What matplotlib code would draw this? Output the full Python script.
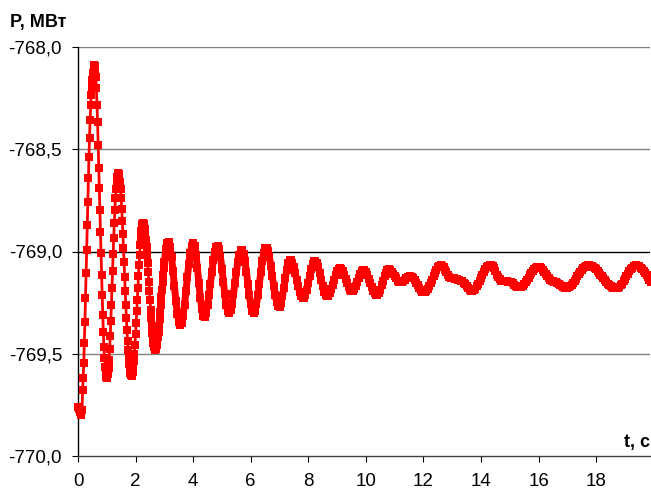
import numpy as np
import matplotlib
matplotlib.use('Agg')
import matplotlib.pyplot as plt
from matplotlib.ticker import FuncFormatter

plt.rcParams['font.family'] = ['Liberation Sans', 'DejaVu Sans']

# Начальный участок переходного процесса, шаг 0,02 с (с 0 до 2,98 с)
dt_a = 0.02
p_a = [
    -769.760, -769.762, -769.768, -769.776, -769.785, -769.795, -769.800, -769.775, -769.677, -769.619,
    -769.545, -769.447, -769.345, -769.227, -769.105, -768.993, -768.870, -768.758, -768.641, -768.538,
    -768.445, -768.357, -768.284, -768.235, -768.196, -768.161, -768.127, -768.103, -768.088, -768.093,
    -768.112, -768.147, -768.200, -768.284, -768.367, -768.479, -768.592, -768.689, -768.797, -768.905,
    -769.007, -769.115, -769.213, -769.311, -769.394, -769.467, -769.521, -769.565, -769.594, -769.614,
    -769.619, -769.614, -769.599, -769.570, -769.531, -769.477, -769.413, -769.340, -769.262, -769.178,
    -769.095, -769.012, -768.934, -768.861, -768.797, -768.738, -768.694, -768.660, -768.636, -768.621,
    -768.616, -768.621, -768.636, -768.660, -768.694, -768.738, -768.792, -768.851, -768.914, -768.983,
    -769.051, -769.125, -769.193, -769.262, -769.325, -769.384, -769.438, -769.482, -769.521, -769.550,
    -769.575, -769.594, -769.604, -769.609, -769.604, -769.591, -769.568, -769.537, -769.499, -769.455,
    -769.404, -769.350, -769.293, -769.235, -769.177, -769.119, -769.065, -769.015, -768.970, -768.932,
    -768.901, -768.879, -768.865, -768.861, -768.864, -768.875, -768.892, -768.915, -768.944, -768.978,
    -769.016, -769.057, -769.102, -769.147, -769.194, -769.239, -769.284, -769.325, -769.364, -769.397,
    -769.426, -769.449, -769.466, -769.477, -769.480, -769.477, -769.470, -769.457, -769.440, -769.418,
    -769.392, -769.363, -769.331, -769.297, -769.261, -769.224, -769.187, -769.151, -769.116, -769.083,
]

# Дальше, с 3,00 с, шаг 0,05 с (точки сливаются в полосу)
t0_b = 3.0
dt_b = 0.05
p_b = [
    -769.052, -768.990, -768.956, -768.952, -768.977, -769.027, -769.095, -769.170, -769.244, -769.305,
    -769.346, -769.360, -769.348, -769.313, -769.260, -769.195, -769.125, -769.060, -769.007, -768.972,
    -768.960, -768.975, -769.018, -769.082, -769.155, -769.226, -769.282, -769.315, -769.318, -769.300,
    -769.264, -769.215, -769.157, -769.098, -769.044, -769.002, -768.977, -768.971, -768.988, -769.028,
    -769.084, -769.148, -769.210, -769.261, -769.292, -769.300, -769.286, -769.255, -769.209, -769.156,
    -769.101, -769.052, -769.015, -768.994, -768.992, -769.011, -769.048, -769.099, -769.157, -769.212,
    -769.259, -769.289, -769.300, -769.289, -769.259, -769.213, -769.158, -769.099, -769.047, -769.007,
    -768.984, -768.981, -768.997, -769.028, -769.071, -769.120, -769.170, -769.214, -769.248, -769.267,
    -769.269, -769.252, -769.220, -769.178, -769.132, -769.090, -769.058, -769.042, -769.042, -769.054,
    -769.077, -769.106, -769.138, -769.171, -769.199, -769.219, -769.229, -769.228, -769.213, -769.188,
    -769.155, -769.120, -769.087, -769.062, -769.047, -769.046, -769.057, -769.078, -769.107, -769.139,
    -769.170, -769.197, -769.214, -769.220, -769.216, -769.204, -769.185, -769.162, -769.138, -769.115,
    -769.096, -769.084, -769.080, -769.084, -769.095, -769.113, -769.133, -769.154, -769.173, -769.187,
    -769.194, -769.193, -769.184, -769.169, -769.149, -769.128, -769.109, -769.096, -769.090, -769.092,
    -769.101, -769.116, -769.134, -769.155, -769.175, -769.193, -769.205, -769.211, -769.211, -769.202,
    -769.186, -769.166, -769.143, -769.122, -769.104, -769.092, -769.088, -769.091, -769.098, -769.108,
    -769.120, -769.132, -769.142, -769.148, -769.150, -769.148, -769.144, -769.138, -769.132, -769.127,
    -769.123, -769.122, -769.124, -769.130, -769.140, -769.152, -769.165, -769.177, -769.188, -769.196,
    -769.200, -769.199, -769.194, -769.184, -769.171, -769.155, -769.138, -769.120, -769.103, -769.089,
    -769.077, -769.070, -769.068, -769.071, -769.078, -769.089, -769.102, -769.114, -769.123, -769.129,
    -769.131, -769.132, -769.134, -769.136, -769.138, -769.140, -769.142, -769.145, -769.152, -769.161,
    -769.171, -769.180, -769.187, -769.191, -769.192, -769.188, -769.181, -769.171, -769.158, -769.144,
    -769.129, -769.113, -769.099, -769.086, -769.076, -769.069, -769.065, -769.066, -769.072, -769.083,
    -769.097, -769.113, -769.126, -769.136, -769.142, -769.143, -769.144, -769.145, -769.146, -769.147,
    -769.149, -769.151, -769.156, -769.162, -769.168, -769.172, -769.175, -769.175, -769.172, -769.167,
    -769.160, -769.151, -769.140, -769.129, -769.117, -769.106, -769.095, -769.087, -769.080, -769.076,
    -769.075, -769.077, -769.082, -769.089, -769.099, -769.110, -769.121, -769.131, -769.138, -769.143,
    -769.145, -769.147, -769.149, -769.152, -769.157, -769.163, -769.169, -769.175, -769.178, -769.180,
    -769.179, -769.176, -769.170, -769.163, -769.154, -769.144, -769.133, -769.122, -769.111, -769.100,
    -769.090, -769.082, -769.076, -769.071, -769.068, -769.068, -769.069, -769.072, -769.076, -769.082,
    -769.088, -769.096, -769.104, -769.113, -769.122, -769.131, -769.140, -769.149, -769.157, -769.164,
    -769.169, -769.174, -769.178, -769.180, -769.180, -769.178, -769.173, -769.166, -769.157, -769.146,
    -769.134, -769.121, -769.109, -769.097, -769.087, -769.079, -769.072, -769.069, -769.068, -769.070,
    -769.073, -769.079, -769.086, -769.095, -769.105, -769.115, -769.126, -769.137, -769.147,
]

y_ticks = [-770.0, -769.5, -769.0, -768.5, -768.0]
x_ticks = [0, 2, 4, 6, 8, 10, 12, 14, 16, 18]

t_a = dt_a * np.arange(len(p_a))
t_b = t0_b + dt_b * np.arange(len(p_b))

red = '#ff0000'
fig = plt.figure(figsize=(6.51, 4.91), dpi=100)
ax = fig.add_axes([78 / 651, 35 / 491, 572 / 651, 409 / 491])

# сетка
for v in y_ticks[1:]:
    ax.axhline(v, color='black' if v == -769.0 else '#808080', lw=1.0, zorder=1)

ax.plot(t_a, p_a, color=red, lw=2.0, marker='s', ms=5.4, mfc=red, mec=red,
        mew=0, zorder=3, clip_on=False)
ax.plot(np.r_[t_a[-1], t_b], np.r_[p_a[-1], p_b], color=red, lw=5.0,
        solid_joinstyle='round', marker='s', ms=5.4, mfc=red, mec=red,
        mew=0, zorder=3)

ax.set_xlim(0, 19.87)
ax.set_ylim(-770, -768)
ax.set_xticks(x_ticks)
ax.set_yticks(y_ticks)
ax.yaxis.set_major_formatter(FuncFormatter(lambda v, _: f'{v:.1f}'.replace('.', ',')))
ax.tick_params(axis='y', direction='out', length=4.5, width=0.8, pad=7, labelsize=13.5)
ax.tick_params(axis='x', direction='out', length=4, width=0.8, pad=8, labelsize=13.5)

for s in ['top', 'right']:
    ax.spines[s].set_visible(False)
ax.spines['left'].set_linewidth(1.0)
ax.spines['bottom'].set_linewidth(1.0)
ax.spines['bottom'].set_color('#404040')

fig.text(10 / 651, 1 - 27 / 491, 'P, МВт', ha='left', va='baseline',
         fontsize=13, fontweight='bold')
fig.text(650 / 651, 1 - 447 / 491, 't, с', ha='right', va='baseline',
         fontsize=13, fontweight='bold')

fig.savefig('out.png', dpi=100)
